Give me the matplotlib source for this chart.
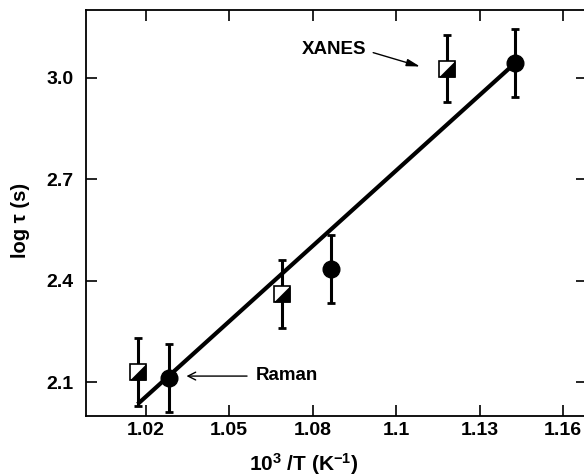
import numpy as np
import matplotlib
matplotlib.use("Agg")
import matplotlib.pyplot as plt

plt.rcParams['font.family'] = ['Liberation Sans', 'DejaVu Sans']
plt.rcParams['font.weight'] = 'bold'
plt.rcParams['mathtext.fontset'] = 'custom'
plt.rcParams['mathtext.rm'] = 'Liberation Sans:bold'
plt.rcParams['mathtext.bf'] = 'Liberation Sans:bold'
plt.rcParams['mathtext.it'] = 'Liberation Sans:bold'
plt.rcParams['mathtext.default'] = 'bf'

# data
xanes_x = [1.0173, 1.0657, 1.1210]
xanes_y = [2.130, 2.360, 3.027]
xanes_err = [0.10, 0.10, 0.10]

raman_x = [1.0277, 1.0823, 1.1440]
raman_y = [2.112, 2.435, 3.044]
raman_err = [0.10, 0.10, 0.10]

fit_x = [1.0173, 1.1440]
fit_y = [2.035, 3.044]

xtick_pos = [1.02, 1.048, 1.076, 1.104, 1.132, 1.16]
xtick_lab = ["1.02", "1.05", "1.08", "1.1", "1.13", "1.16"]
ytick_pos = [2.1, 2.4, 2.7, 3.0]
ytick_lab = ["2.1", "2.4", "2.7", "3.0"]

fig = plt.figure(figsize=(5.84, 4.76), dpi=100)
ax = fig.add_axes([86/584, 60/476, 501/584, 406/476])

ax.plot(fit_x, fit_y, color='black', lw=3.0, solid_capstyle='butt', zorder=2)

ekw = dict(fmt='none', ecolor='black', elinewidth=2.2, capsize=3, capthick=2.0, zorder=3)
ax.errorbar(xanes_x, xanes_y, yerr=xanes_err, **ekw)
ax.errorbar(raman_x, raman_y, yerr=raman_err, **ekw)

# half filled squares (diagonal split)
ax.plot(xanes_x, xanes_y, ls='none', marker='s', ms=11, mfc='white', mec='black', mew=1.2, zorder=4)
tri = [(-1, -1), (1, -1), (1, 1), (-1, -1)]
ax.plot(xanes_x, xanes_y, ls='none', marker=tri, ms=11, mfc='black', mec='black', mew=0.5, zorder=5)

ax.plot(raman_x, raman_y, ls='none', marker='o', ms=12, mfc='black', mec='black', zorder=5)

ax.set_xlim(1.0, 1.168)
ax.set_ylim(2.0, 3.2)
ax.set_xticks(xtick_pos)
ax.set_xticklabels(xtick_lab)
ax.set_yticks(ytick_pos)
ax.set_yticklabels(ytick_lab)
ax.tick_params(direction='in', length=8, width=1.2, labelsize=14,
               top=True, right=True)
ax.tick_params(axis='x', pad=4)
ax.tick_params(axis='y', pad=9)
for s in ax.spines.values():
    s.set_linewidth(1.3)

# labels with arrows
ax.text(1.0833, 3.083, 'XANES', fontsize=13.5, fontweight='bold',
        ha='center', va='center')
ax.annotate('', xy=(xanes_x[2] - 0.009, xanes_y[2] + 0.006),
            xytext=(1.0963, 3.074),
            arrowprops=dict(arrowstyle='-|>,head_length=0.8,head_width=0.22',
                            color='black', lw=1.0, shrinkA=0, shrinkB=0))
ax.text(1.057, 2.121, 'Raman', fontsize=13.5, fontweight='bold',
        ha='left', va='center')
ax.annotate('', xy=(raman_x[0] + 0.006, raman_y[0] + 0.006),
            xytext=(1.054, 2.118),
            arrowprops=dict(arrowstyle='->,head_length=0.55,head_width=0.28',
                            color='black', lw=1.0, shrinkA=0, shrinkB=0))

fig.text(304/584, 1 - 464/476, r'10$^{3}$ /T (K$^{-1}$)',
         ha='center', va='center', fontsize=15, fontweight='bold')
fig.text(20/584, 1 - 220/476, 'log τ (s)', rotation=90,
         ha='center', va='center', fontsize=14.5, fontweight='bold')

fig.savefig('out.png', dpi=100)
